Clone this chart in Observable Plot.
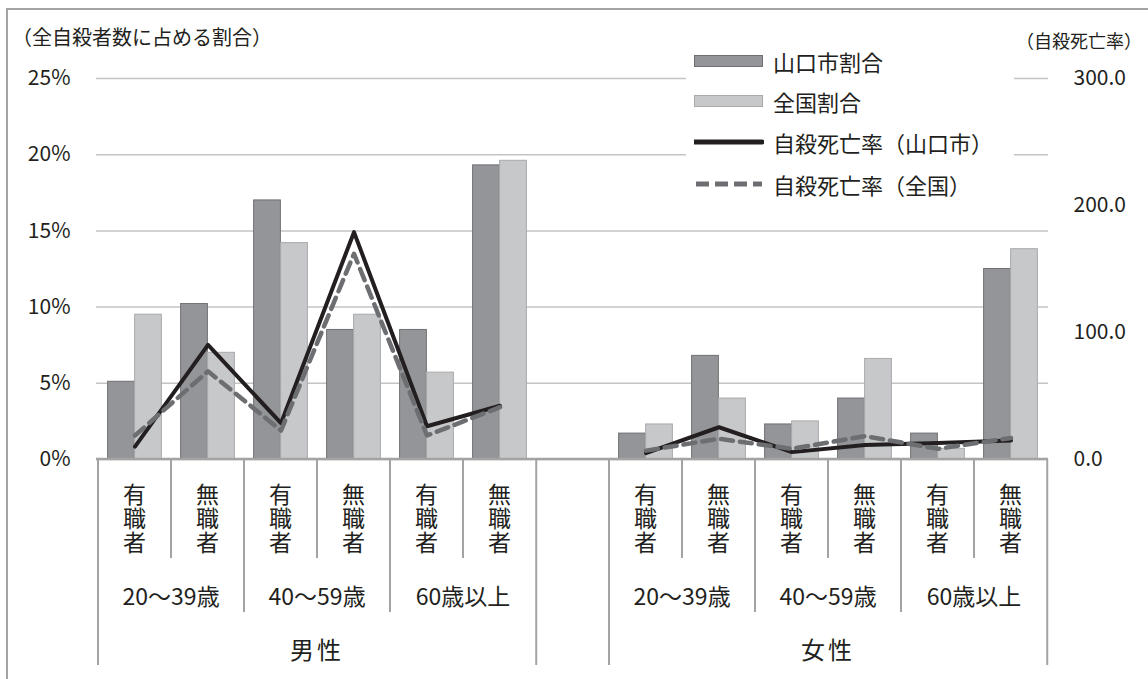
<!DOCTYPE html>
<html>
<head>
<meta charset="utf-8">
<script src="https://cdn.jsdelivr.net/npm/d3@7"></script>
<script src="https://cdn.jsdelivr.net/npm/@observablehq/plot@0.6"></script>
<style>
  html, body { margin: 0; padding: 0; background: #fff; }
  #wrap { position: relative; width: 1148px; height: 679px; overflow: hidden; font-family: "Noto Sans CJK JP", "Noto Sans", sans-serif; color: #231f20; }
  #frame { position: absolute; left: 6px; top: 8px; width: 1160px; height: 700px; border: 2px solid #a3a3a3; box-sizing: border-box; }
  #chart { position: absolute; left: 0; top: 0; }
  .ttl { position: absolute; font-size: 20px; white-space: nowrap; line-height: 1; }
  #legend { position: absolute; left: 686px; top: 44px; width: 328px; height: 160px; background: #fff; }
  .row { position: absolute; left: 8px; height: 26px; display: flex; align-items: center; font-size: 22px; white-space: nowrap; }
  .row svg { margin-right: 9px; }
</style>
</head>
<body>
<div id="wrap">
  <div id="frame"></div>
  <div id="chart"></div>
  <div class="ttl" style="left:12px; top:27px;">（全自殺者数に占める割合）</div>
  <div class="ttl" style="left:1016px; top:31px; font-size:18px;">（自殺死亡率）</div>
  <div id="legend"></div>
</div>
<script>
// ---- data ----
const genders = ["男性", "女性"];
const ages = ["20～39歳", "40～59歳", "60歳以上"];
const jobs = ["有職者", "無職者"];
// order: 男性(20-39 有,無; 40-59 有,無; 60+ 有,無), 女性(same)
const yamaguchiShare = [5.1, 10.2, 17.0, 8.5, 8.5, 19.3, 1.7, 6.8, 2.3, 4.0, 1.7, 12.5];
const nationalShare  = [9.5, 7.0, 14.2, 9.5, 5.7, 19.6, 2.3, 4.0, 2.5, 6.6, 0.7, 13.8];
const yamaguchiRate  = [10.2, 90.3, 28.6, 179.0, 26.2, 42.3, 5.0, 25.4, 5.8, 11.5, 12.9, 15.0];
const nationalRate   = [18.9, 69.5, 22.8, 162.0, 18.9, 41.2, 7.0, 16.3, 8.4, 18.4, 8.4, 17.0];
const leftTicks = [0, 5, 10, 15, 20, 25];
const rightTicks = [0, 100, 200, 300];
const rateMax = 300, shareMax = 25;

const legendItems = [
  {label: "山口市割合", kind: "bar", color: "#939598", stroke: "#6f7073"},
  {label: "全国割合", kind: "bar", color: "#c7c8ca", stroke: "#a9aaac"},
  {label: "自殺死亡率（山口市）", kind: "line", color: "#231f20"},
  {label: "自殺死亡率（全国）", kind: "dash", color: "#6d6e71"}
];

// ---- build rows ----
const rows = [];
let i = 0;
genders.forEach(g => ages.forEach(a => jobs.forEach(j => {
  rows.push({key: g + "|" + a + "|" + j, gender: g, age: a, job: j,
    yam: yamaguchiShare[i], nat: nationalShare[i], yamRate: yamaguchiRate[i], natRate: nationalRate[i]});
  i++;
})));
const domain = [...rows.slice(0, 6).map(d => d.key), "gap", ...rows.slice(6).map(d => d.key)];
const toShare = r => r * shareMax / rateMax;

const W = 1148, H = 679, mL = 96, mR = 100, mT = 78, mB = 220;
const bw = (W - mL - mR) / domain.length;
const barW = 27;

const lineColor = "#a3a3a3";

function categoryAxis(index, scales, values, dimensions) {
  const g = d3.create("svg:g");
  const y0 = dimensions.height - dimensions.marginBottom;
  const x = scales.x;
  const left = k => x(k);
  const right = k => x(k) + bw;
  g.append("line").attr("x1", dimensions.marginLeft).attr("x2", dimensions.width - dimensions.marginRight)
    .attr("y1", y0).attr("y2", y0).attr("stroke", lineColor).attr("stroke-width", 2.5);
  const seps = [];
  genders.forEach(gn => {
    const gr = rows.filter(d => d.gender === gn);
    seps.push({x: left(gr[0].key), len: 206});
    seps.push({x: right(gr[gr.length - 1].key), len: 206});
    ages.forEach((a, ai) => {
      const ar = gr.filter(d => d.age === a);
      if (ai > 0) seps.push({x: left(ar[0].key), len: 153});
      seps.push({x: left(ar[1].key), len: 99});
      ar.forEach(d => {
        const cx = x(d.key) + bw / 2;
        g.append("text").attr("x", cx).attr("y", y0 + 60)
          .attr("text-anchor", "middle")
          .style("writing-mode", "vertical-rl")
          .attr("font-size", 23).attr("letter-spacing", 1).attr("fill", "#231f20").text(d.job);
      });
      const acx = (left(ar[0].key) + right(ar[1].key)) / 2;
      g.append("text").attr("x", acx).attr("y", y0 + 136).attr("text-anchor", "middle")
        .attr("dominant-baseline", "central").attr("font-size", 23).attr("fill", "#231f20").text(a);
    });
    const gcx = (left(gr[0].key) + right(gr[gr.length - 1].key)) / 2;
    g.append("text").attr("x", gcx).attr("y", y0 + 189).attr("text-anchor", "middle")
      .attr("dominant-baseline", "central").attr("font-size", 24).attr("letter-spacing", 3).attr("fill", "#231f20").text(gn);
  });
  seps.forEach(s => {
    g.append("line").attr("x1", s.x).attr("x2", s.x).attr("y1", y0).attr("y2", y0 + s.len)
      .attr("stroke", lineColor).attr("stroke-width", 2);
  });
  return g.node();
}

const chart = Plot.plot({
  width: W, height: H,
  marginLeft: mL, marginRight: mR, marginTop: mT, marginBottom: mB,
  style: {fontFamily: "'Noto Sans CJK JP', 'Noto Sans', sans-serif", fontSize: "21px", color: "#231f20", background: "transparent", overflow: "visible"},
  x: {type: "band", domain, padding: 0, axis: null},
  y: {domain: [0, shareMax], axis: null},
  marks: [
    Plot.ruleY(leftTicks, {y: d => d, stroke: "#c4c4c4", strokeWidth: 1.5}),
    Plot.text(leftTicks, {y: d => d, text: d => d + "%", frameAnchor: "left", dx: -26, textAnchor: "end", fontSize: 21, fill: "#231f20"}),
    Plot.text(rightTicks, {y: d => toShare(d), text: d => d.toFixed(1), frameAnchor: "right", dx: 25, textAnchor: "start", fontSize: 21, fill: "#231f20"}),
    Plot.barY(rows, {x: "key", y: "yam", fill: "#939598", stroke: "#6f7073", strokeWidth: 1,
      insetLeft: bw / 2 - barW, insetRight: bw / 2}),
    Plot.barY(rows, {x: "key", y: "nat", fill: "#c7c8ca", stroke: "#a9aaac", strokeWidth: 1,
      insetLeft: bw / 2, insetRight: bw / 2 - barW}),
    Plot.line(rows, {x: "key", y: d => toShare(d.yamRate), z: "gender", stroke: "#231f20", strokeWidth: 4}),
    Plot.line(rows, {x: "key", y: d => toShare(d.natRate), z: "gender", stroke: "#6d6e71", strokeWidth: 4.5, strokeDasharray: "12,7"}),
    categoryAxis
  ]
});
document.getElementById("chart").appendChild(chart);

// legend
const leg = d3.select("#legend");
const tops = [4, 44, 85, 127];
legendItems.forEach((it, k) => {
  const row = leg.append("div").attr("class", "row").style("top", tops[k] + "px");
  const s = row.append("svg").attr("width", 70).attr("height", 14);
  if (it.kind === "bar") {
    s.append("rect").attr("x", 0.5).attr("y", 1.5).attr("width", 68).attr("height", 11)
      .attr("fill", it.color).attr("stroke", it.stroke);
  } else if (it.kind === "line") {
    s.append("line").attr("x1", 0).attr("x2", 68).attr("y1", 7).attr("y2", 7)
      .attr("stroke", it.color).attr("stroke-width", 5).attr("stroke-linecap", "round");
  } else {
    s.append("line").attr("x1", 2).attr("x2", 68).attr("y1", 7).attr("y2", 7)
      .attr("stroke", it.color).attr("stroke-width", 5).attr("stroke-dasharray", "13,6");
  }
  row.append("span").text(it.label);
});
</script>
</body>
</html>
